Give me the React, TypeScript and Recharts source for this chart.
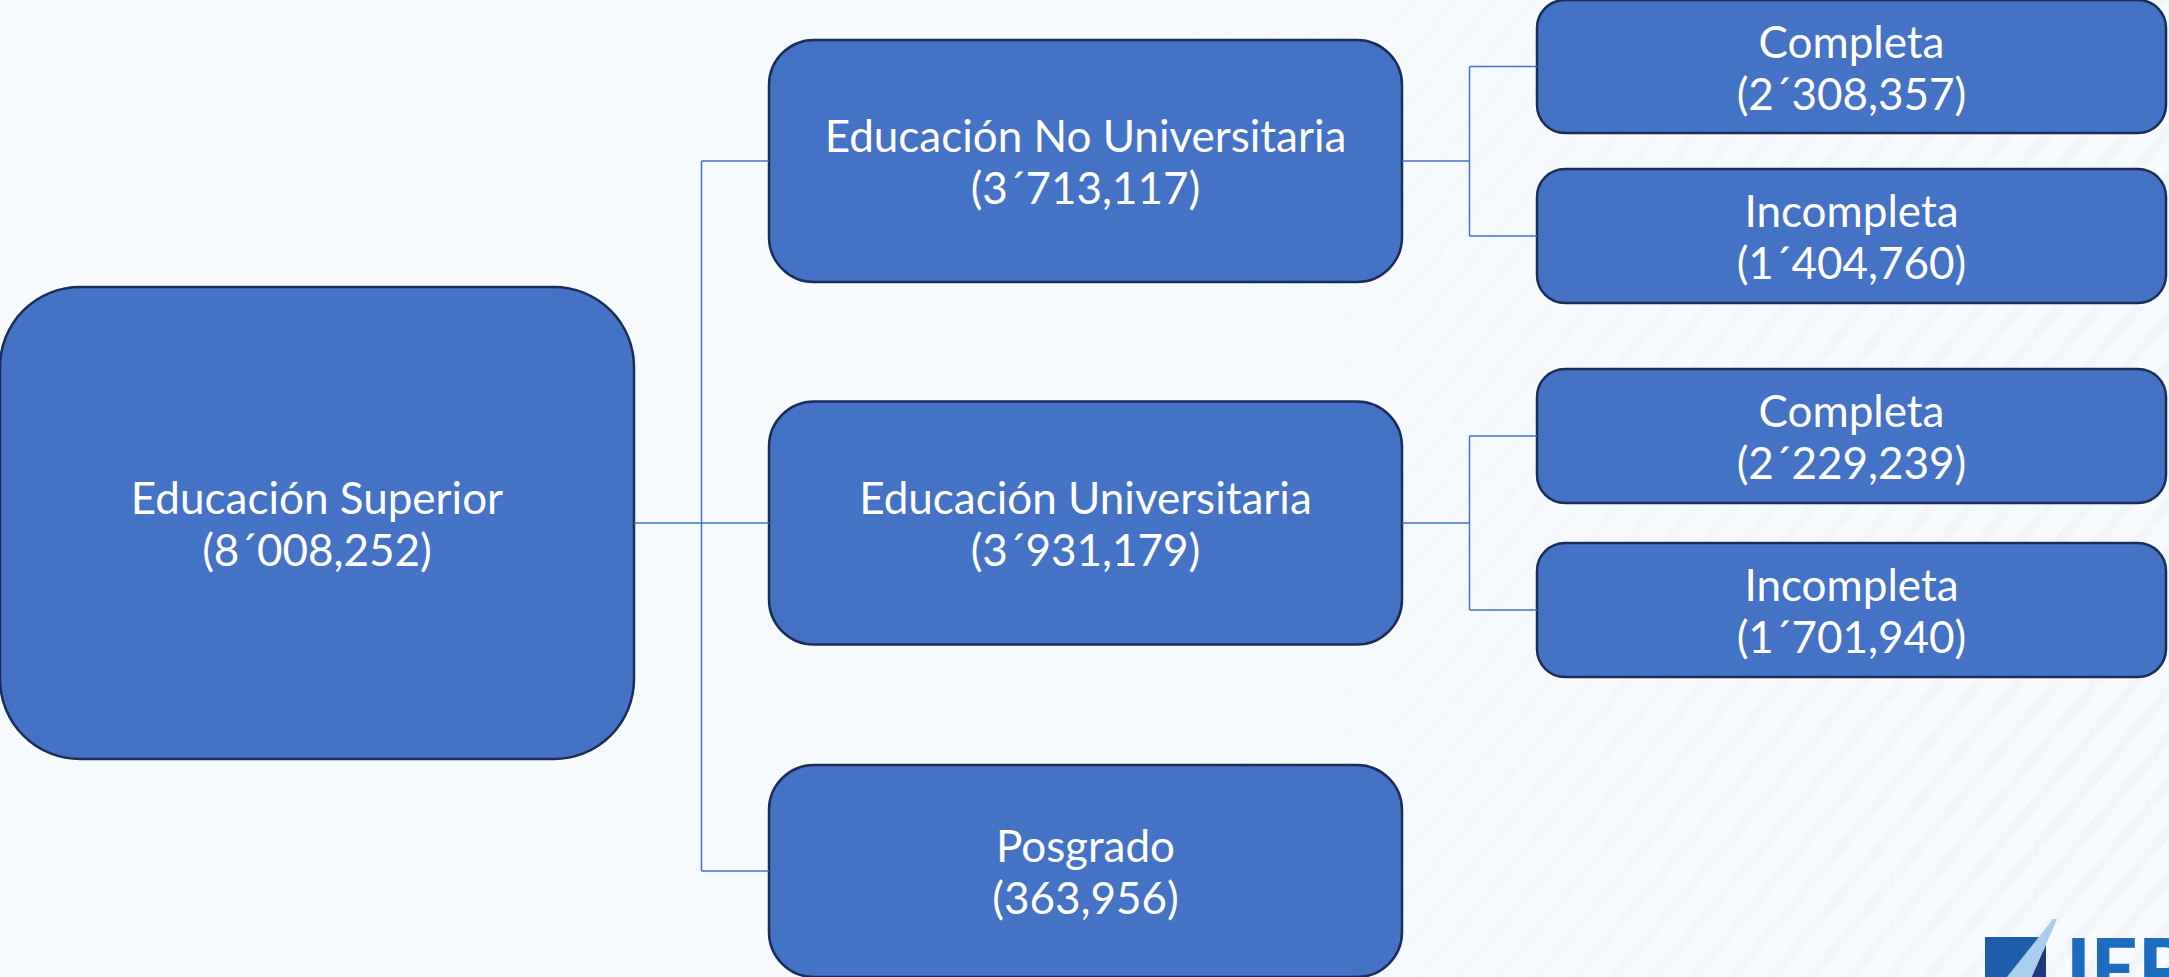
import {
  ReferenceArea,
  ReferenceLine,
  Scatter,
  ScatterChart,
  XAxis,
  YAxis,
} from "recharts";

const WIDTH = 2169;
const HEIGHT = 977;

const nodeNames = [
  "Educación Superior",
  "Educación No Universitaria",
  "Educación Universitaria",
  "Posgrado",
  "Completa",
  "Incompleta",
  "Completa",
  "Incompleta",
];
const nodeTotals = [
  8008252, 3713117, 3931179, 363956, 2308357, 1404760, 2229239, 1701940,
];
const nodeParents = [-1, 0, 0, 0, 1, 1, 2, 2];

// diagram layout, chart units are pixels
const columnSpans = [
  [0, 634],
  [769, 1402],
  [1537, 2166],
];
const nodeMiddles = [523, 161, 523, 871, 66.5, 236, 436, 610];
const nodeHeights = [472, 242, 243, 212, 133, 134, 134, 134];
const cornerRadii = [80, 45, 28];

const FILL = "#4472C4";
const BORDER = "#1B2E5A";
const FONT = "Lato, 'Open Sans', sans-serif";

function levelOf(i: number): number {
  return nodeParents[i] < 0 ? 0 : levelOf(nodeParents[i]) + 1;
}

function pad3(v: number) {
  return String(v).padStart(3, "0");
}

function formatTotal(n: number) {
  const millions = Math.floor(n / 1e6);
  const thousands = Math.floor((n % 1e6) / 1000);
  const units = n % 1000;
  if (millions > 0) return `(${millions}´${pad3(thousands)},${pad3(units)})`;
  return `(${thousands},${pad3(units)})`;
}

const nodes = nodeNames.map((name, i) => {
  const level = levelOf(i);
  const [x0, x1] = columnSpans[level];
  return {
    id: i,
    name,
    total: nodeTotals[i],
    level,
    x: (x0 + x1) / 2,
    y: nodeMiddles[i],
    x0,
    x1,
    y0: nodeMiddles[i] - nodeHeights[i] / 2,
    y1: nodeMiddles[i] + nodeHeights[i] / 2,
  };
});

type Pt = { x: number; y: number };

// elbow connectors parent -> children
const connectors: [Pt, Pt][] = [];
nodes.forEach((parent) => {
  const kids = nodes.filter((n) => nodeParents[n.id] === parent.id);
  if (!kids.length) return;
  const childLeft = columnSpans[parent.level + 1][0];
  const midX = (parent.x1 + childLeft) / 2;
  connectors.push([
    { x: parent.x1, y: parent.y },
    { x: midX, y: parent.y },
  ]);
  const ys = kids.map((k) => k.y);
  connectors.push([
    { x: midX, y: Math.min(...ys) },
    { x: midX, y: Math.max(...ys) },
  ]);
  kids.forEach((k) => {
    connectors.push([
      { x: midX, y: k.y },
      { x: childLeft, y: k.y },
    ]);
  });
});

const boxShape = (radius: number) => (props: any) => (
  <rect
    x={props.x}
    y={props.y}
    width={props.width}
    height={props.height}
    rx={radius}
    ry={radius}
    fill={FILL}
    stroke={BORDER}
    strokeWidth={2.5}
  />
);

const renderLabel = (props: any) => {
  const { cx, cy, payload } = props;
  return (
    <g>
      <text
        x={cx}
        y={cy - 9}
        textAnchor="middle"
        fill="#ffffff"
        fontSize={44}
        fontFamily={FONT}
      >
        {payload.name}
      </text>
      <text
        x={cx}
        y={cy + 43}
        textAnchor="middle"
        fill="#ffffff"
        fontSize={44}
        fontFamily={FONT}
      >
        {formatTotal(payload.total)}
      </text>
    </g>
  );
};

export default function App() {
  return (
    <div
      style={{
        position: "absolute",
        left: 0,
        top: 0,
        width: WIDTH,
        height: HEIGHT,
        background: "#F7FAFC",
        overflow: "hidden",
      }}
    >
      <style>{"body{margin:0;overflow:hidden}"}</style>
      <ScatterChart
        width={WIDTH}
        height={HEIGHT}
        margin={{ top: 0, right: 0, bottom: 0, left: 0 }}
      >
        <defs>
          <pattern
            id="stripes"
            width="30"
            height="30"
            patternUnits="userSpaceOnUse"
            patternTransform="rotate(40)"
          >
            <rect width="10" height="30" fill="#ECF0F3" />
          </pattern>
          <linearGradient id="fadeGrad" x1="0" y1="0" x2="1" y2="0">
            <stop offset="0" stopColor="#fff" stopOpacity="0" />
            <stop offset="0.5" stopColor="#fff" stopOpacity="0.5" />
            <stop offset="1" stopColor="#fff" stopOpacity="0.9" />
          </linearGradient>
          <mask id="fadeMask">
            <rect x="1150" y="0" width="1019" height="977" fill="url(#fadeGrad)" />
          </mask>
        </defs>
        <rect
          x="1150"
          y="0"
          width="1019"
          height="977"
          fill="url(#stripes)"
          mask="url(#fadeMask)"
          opacity={0.55}
        />
        <XAxis type="number" dataKey="x" domain={[0, WIDTH]} hide allowDataOverflow />
        <YAxis
          type="number"
          dataKey="y"
          domain={[0, HEIGHT]}
          reversed
          hide
          allowDataOverflow
        />
        {connectors.map((seg, i) => (
          <ReferenceLine
            key={`c${i}`}
            segment={seg}
            stroke={FILL}
            strokeWidth={1.5}
            ifOverflow="visible"
          />
        ))}
        {nodes.map((n) => (
          <ReferenceArea
            key={`b${n.id}`}
            x1={n.x0}
            x2={n.x1}
            y1={n.y0}
            y2={n.y1}
            ifOverflow="visible"
            shape={boxShape(cornerRadii[n.level])}
          />
        ))}
        <Scatter
          data={nodes}
          isAnimationActive={false}
          shape={renderLabel}
        />
        {/* logo, bottom right */}
        <g>
          <rect x={1985} y={937} width={58} height={40} fill="#1F5DAD" />
          <polygon points="2007,977 2053,919 2057,919 2032,977" fill="#A9CDEC" />
          <polygon points="2032,977 2046,945 2046,977" fill="#1E3C7C" />
          <text
            x={2066}
            y={998}
            fill="#1E6CC0"
            fontSize={82}
            fontWeight={900}
            fontFamily="Lato, sans-serif"
          >
            IEP
          </text>
        </g>
      </ScatterChart>
    </div>
  );
}
